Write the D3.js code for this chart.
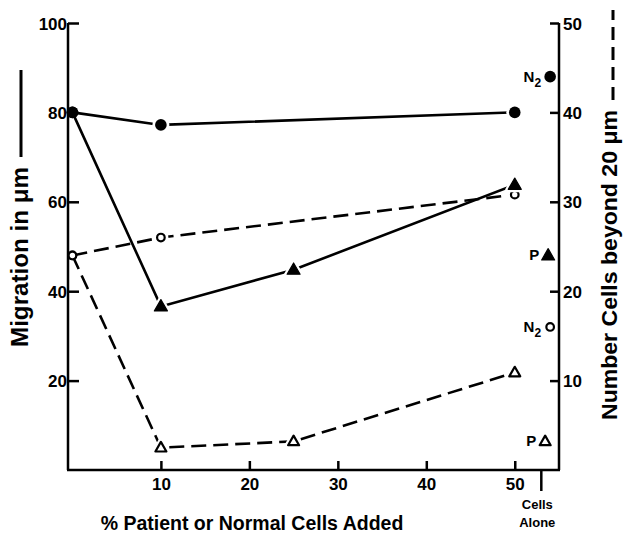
<!DOCTYPE html>
<html><head><meta charset="utf-8">
<script src="https://cdn.jsdelivr.net/npm/d3@7"></script>
<style>
body{margin:0;background:#fff;}
text{font-family:"Liberation Sans",Arial,sans-serif;font-weight:bold;fill:#000;}
</style></head>
<body><svg id="c" width="623" height="539"></svg>
<script>
// ---- data ----
const xTicks = [10, 20, 30, 40, 50];
const leftTicks = [20, 40, 60, 80, 100];
const rightTicks = [10, 20, 30, 40, 50];
const cellsAloneX = 53.0;
// Migration (left axis, µm)
const n2MigX = [0, 10, 50];
const n2MigY = [80, 77.2, 80];
const pMigX = [0, 10, 25, 50];
const pMigY = [80, 36.6, 44.8, 63.8];
// Number of cells beyond 20 µm (right axis)
const n2NumX = [0, 10, 50];
const n2NumY = [24, 26, 30.8];
const pNumX = [0, 10, 25, 50];
const pNumY = [24, 2.5, 3.2, 10.9];
// Cells alone values
const aloneLabels = ["N2", "P", "N2", "P"];
const aloneMarkers = ["filledCircle", "filledTri", "openCircle", "openTri"];
const aloneAxis = ["left", "left", "right", "right"];
const aloneValues = [88, 48, 16, 3.2];

const svg = d3.select("#c");
const x = d3.scaleLinear().domain([-0.5, 55]).range([68, 559]);
const yL = d3.scaleLinear().domain([0, 100]).range([470, 23]);
const yR = d3.scaleLinear().domain([0, 50]).range([470, 23]);
const xL = 68, xRt = 559;

// axes frame
svg.append("line").attr("x1", xRt).attr("x2", xRt).attr("y1", yR(50)).attr("y2", yR(0)).attr("stroke", "#000").attr("stroke-width", 2.5);
svg.append("line").attr("x1", xL-1).attr("x2", xRt+1).attr("y1", yL(0)).attr("y2", yL(0)).attr("stroke", "#000").attr("stroke-width", 2.5);

// left axis
const axL = d3.axisLeft(yL).tickValues(leftTicks).tickSize(-11).tickPadding(2).tickFormat(d3.format("d"));
const gL = svg.append("g").attr("transform", `translate(${xL},0)`).call(axL);
gL.select(".domain").remove();
gL.selectAll(".tick line").attr("stroke-width", 2.5);
gL.selectAll(".tick text").style("font-size", "17px").attr("x", -1).attr("dy", "0.36em");

// right axis
const axR = d3.axisRight(yR).tickValues(rightTicks).tickSize(-9).tickPadding(3).tickFormat(d3.format("d"));
const gR = svg.append("g").attr("transform", `translate(${xRt},0)`).call(axR);
gR.select(".domain").remove();
gR.selectAll(".tick line").attr("stroke-width", 2.5);
gR.selectAll(".tick text").style("font-size", "17px").attr("x", 4).attr("dy", "0.36em");

// bottom axis
const axB = d3.axisBottom(x).tickValues(xTicks).tickSize(-9).tickPadding(8).tickFormat(d3.format("d"));
const gB = svg.append("g").attr("transform", `translate(0,${yL(0)})`).call(axB);
gB.select(".domain").remove();
gB.selectAll(".tick line").attr("stroke-width", 2.5);
gB.selectAll(".tick text").style("font-size", "17px").attr("y", 8).attr("dy", "0.71em");

// cells alone tick
svg.append("line").attr("x1", x(cellsAloneX)).attr("x2", x(cellsAloneX)).attr("y1", yL(0)).attr("y2", yL(0)+21).attr("stroke", "#000").attr("stroke-width", 2.5);
svg.append("text").attr("x", x(cellsAloneX)-4).attr("y", 509).attr("text-anchor", "middle").style("font-size", "13px").text("Cells");
svg.append("text").attr("x", x(cellsAloneX)-4).attr("y", 527).attr("text-anchor", "middle").style("font-size", "13px").text("Alone");

// axis titles
svg.append("text").attr("x", 252).attr("y", 530).attr("text-anchor", "middle").style("font-size", "19.5px").text("% Patient or Normal Cells Added");
svg.append("text").attr("transform", "translate(28,347) rotate(-90)").attr("text-anchor", "start").style("font-size", "23px")
  .attr("textLength", 180).attr("lengthAdjust", "spacingAndGlyphs").text("Migration in \u03BCm");
svg.append("line").attr("x1", 21).attr("x2", 21).attr("y1", 157).attr("y2", 70).attr("stroke", "#000").attr("stroke-width", 3);
svg.append("text").attr("transform", "translate(617,420) rotate(-90)").attr("text-anchor", "start").style("font-size", "22.5px")
  .attr("textLength", 310).attr("lengthAdjust", "spacingAndGlyphs").text("Number Cells beyond 20 \u03BCm");
svg.append("line").attr("x1", 613).attr("x2", 613).attr("y1", 100).attr("y2", 10).attr("stroke", "#000").attr("stroke-width", 3).attr("stroke-dasharray", "13,7");

// series lines
function pts(xs, ys, ys2) { return xs.map((d, i) => [x(d), ys2(ys[i])]); }
const line = d3.line();
svg.append("path").attr("d", line(pts(n2MigX, n2MigY, yL))).attr("fill", "none").attr("stroke", "#000").attr("stroke-width", 2.6);
svg.append("path").attr("d", line(pts(pMigX, pMigY, yL))).attr("fill", "none").attr("stroke", "#000").attr("stroke-width", 2.6);
svg.append("path").attr("d", line(pts(n2NumX, n2NumY, yR))).attr("fill", "none").attr("stroke", "#000").attr("stroke-width", 2.6).attr("stroke-dasharray", "15,7");
svg.append("path").attr("d", line(pts(pNumX, pNumY, yR))).attr("fill", "none").attr("stroke", "#000").attr("stroke-width", 2.6).attr("stroke-dasharray", "15,7");

// markers
function triPath(cx, cy, s) {
  const h = s * 0.87;
  return `M${cx},${cy - h*0.6}L${cx + s/2},${cy + h*0.4}L${cx - s/2},${cy + h*0.4}Z`;
}
function marker(type, cx, cy, halo) {
  if (type === "filledCircle") {
    if (halo) svg.append("circle").attr("cx", cx).attr("cy", cy).attr("r", 8.5).attr("fill", "#fff");
    svg.append("circle").attr("cx", cx).attr("cy", cy).attr("r", 5.8).attr("fill", "#000");
  } else if (type === "openCircle") {
    if (halo) svg.append("circle").attr("cx", cx).attr("cy", cy).attr("r", 7.5).attr("fill", "#fff");
    svg.append("circle").attr("cx", cx).attr("cy", cy).attr("r", 3.8).attr("fill", "#fff").attr("stroke", "#000").attr("stroke-width", 2.2);
  } else if (type === "filledTri") {
    if (halo) svg.append("path").attr("d", triPath(cx, cy, 14)).attr("fill", "#fff").attr("stroke", "#fff").attr("stroke-width", 5).attr("stroke-linejoin", "round");
    svg.append("path").attr("d", triPath(cx, cy, 13)).attr("fill", "#000").attr("stroke", "#000").attr("stroke-width", 1.2).attr("stroke-linejoin", "round");
  } else if (type === "openTri") {
    if (halo) svg.append("path").attr("d", triPath(cx, cy, 12)).attr("fill", "#fff").attr("stroke", "#fff").attr("stroke-width", 6).attr("stroke-linejoin", "round");
    svg.append("path").attr("d", triPath(cx, cy, 11)).attr("fill", "#fff").attr("stroke", "#000").attr("stroke-width", 2.2).attr("stroke-linejoin", "round");
  }
}
n2NumX.forEach((d, i) => marker("openCircle", x(d), yR(n2NumY[i]), d > 0));
pNumX.forEach((d, i) => { if (d > 0) marker("openTri", x(d), yR(pNumY[i]), true); });
pMigX.forEach((d, i) => { if (d > 0) marker("filledTri", x(d), yL(pMigY[i]), true); });
n2MigX.forEach((d, i) => marker("filledCircle", x(d), yL(n2MigY[i]), d > 0));
// left axis line on top
svg.append("line").attr("x1", xL).attr("x2", xL).attr("y1", yL(100)).attr("y2", yL(0)).attr("stroke", "#000").attr("stroke-width", 2.5);
marker("filledCircle", x(n2MigX[0]), yL(n2MigY[0]), false);
marker("openCircle", x(n2NumX[0]), yR(n2NumY[0]), false);

// cells alone markers and labels
const aloneMX = 54.0;
aloneValues.forEach((v, i) => {
  const cy = aloneAxis[i] === "left" ? yL(v) : yR(v);
  const cx = x(aloneMX) - (aloneMarkers[i] === "openTri" ? 5 : 0) - (aloneMarkers[i] === "filledTri" ? 2 : 0);
  marker(aloneMarkers[i], cx, cy, false);
  const t = svg.append("text").attr("x", cx - 9).attr("y", cy + 5).attr("text-anchor", "end").style("font-size", "15px");
  const lab = aloneLabels[i];
  if (lab === "N2") {
    t.append("tspan").text("N");
    t.append("tspan").attr("dy", 5).style("font-size", "12px").text("2");
  } else {
    t.text(lab);
  }
});
</script></body></html>
